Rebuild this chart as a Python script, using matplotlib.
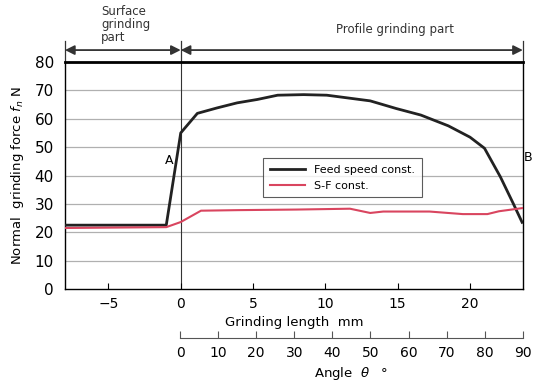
import matplotlib.pyplot as plt

# Feed speed constant (black)
feed_x = [-8, -1.0, 0.0, 1.15, 2.5, 3.9, 5.3, 6.7, 8.5, 10.1, 11.9, 13.1, 14.9, 16.6, 18.5, 20, 21, 22.1, 23, 23.6]
feed_y = [22.5, 22.5, 55.0, 61.9, 63.8, 65.6, 66.8, 68.3, 68.5, 68.3, 67.1, 66.3, 63.6, 61.3, 57.5, 53.5, 49.6, 39.5, 30, 23.5]

# S-F constant (red)
sf_x = [-8, -1.0, 0.0, 1.4, 4, 8, 11.7, 13.1, 14, 17.2, 19.5, 21.2, 22, 23.6]
sf_y = [21.5, 21.8, 23.6, 27.6, 27.8, 28.0, 28.3, 26.8, 27.3, 27.3, 26.4, 26.4, 27.4, 28.5]

xticks = [-5, 0, 5, 10, 15, 20]
yticks = [0, 10, 20, 30, 40, 50, 60, 70, 80]
angle_ticks = [0, 10, 20, 30, 40, 50, 60, 70, 80, 90]

x_left, x_right = -8, 23.65

fig = plt.figure(figsize=(5.39, 3.87), dpi=100)
ax = fig.add_axes([0.1206, 0.2532, 0.8494, 0.5866])

for y in yticks[1:-1]:
    ax.axhline(y, color='#b0b0b0', lw=0.9, zorder=1)
ax.axvline(0, color='#333333', lw=0.8, zorder=1)

ax.plot(feed_x, feed_y, color='#222222', lw=2.0, label='Feed speed const.', zorder=3)
ax.plot(sf_x, sf_y, color='#d9455f', lw=1.5, label='S-F const.', zorder=3)

ax.set_xlim(x_left, x_right)
ax.set_ylim(0, 80)
ax.set_xticks(xticks)
ax.set_yticks(yticks)
ax.tick_params(axis='x', direction='in', length=4, labelsize=10, pad=6)
ax.tick_params(axis='y', length=0, labelsize=11, pad=8)
ax.spines['top'].set_linewidth(2.0)
for s in ['left', 'right', 'bottom']:
    ax.spines[s].set_linewidth(1.0)

ax.set_xlabel('Grinding length  mm', fontsize=9.5, labelpad=3)
ax.set_ylabel('Normal  grinding force $f_n$ N', fontsize=9.5, labelpad=6)

leg = ax.legend(loc='upper left', bbox_to_anchor=(0.42, 0.6), fontsize=8,
                fancybox=False, edgecolor='#333333', handlelength=3.2,
                borderpad=0.6, labelspacing=0.5)
leg.get_frame().set_linewidth(0.8)

ax.text(-0.8, 44, 'A', fontsize=9, ha='center')
ax.text(x_right + 0.35, 45, 'B', fontsize=9, ha='center')

# region markers above the plot
for xv in [x_left, 0, x_right]:
    ax.plot([xv, xv], [80, 87.5], color='#333333', lw=0.9, clip_on=False)
ax.annotate('', xy=(x_left, 84.2), xytext=(0, 84.2),
            arrowprops=dict(arrowstyle='<|-|>', color='#333333', lw=1.3,
                            mutation_scale=14, shrinkA=0, shrinkB=0),
            annotation_clip=False)
ax.annotate('', xy=(0, 84.2), xytext=(x_right, 84.2),
            arrowprops=dict(arrowstyle='<|-|>', color='#333333', lw=1.3,
                            mutation_scale=14, shrinkA=0, shrinkB=0),
            annotation_clip=False)
ax.text(-5.5, 86.5, 'Surface\ngrinding\npart', fontsize=8.5, ha='left', va='bottom',
        linespacing=1.0, color='#333333')
ax.text(14.8, 89, 'Profile grinding part', fontsize=8.5, ha='center', va='bottom',
        color='#333333')

# angle axis
ax2 = fig.add_axes([0.334, 0.1266, 0.636, 0.001])
ax2.set_xlim(0, 90)
ax2.set_xticks(angle_ticks)
ax2.set_yticks([])
for s in ['top', 'left', 'right']:
    ax2.spines[s].set_visible(False)
ax2.spines['bottom'].set_color('#555555')
ax2.tick_params(axis='x', direction='in', length=5, labelsize=10, pad=6, color='#555555')
ax2.set_xlabel(r'Angle  $\theta$   °', fontsize=9.5, labelpad=3)

fig.savefig('out.png', dpi=100)
